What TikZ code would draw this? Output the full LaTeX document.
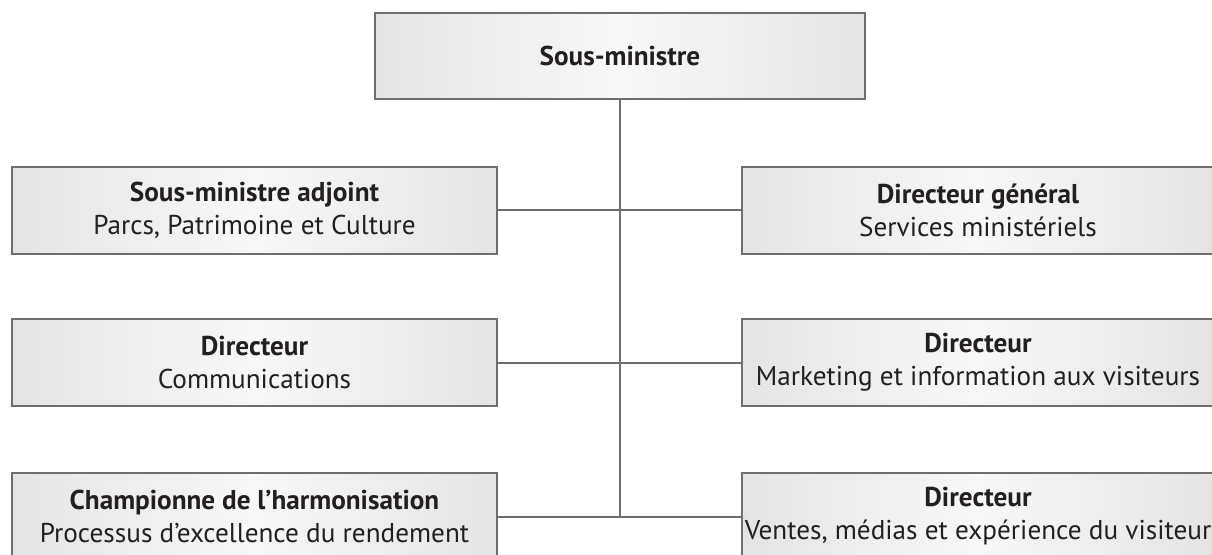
\documentclass[tikz,border=0pt]{standalone}
\usepackage{fontspec}
\setmainfont{PT Sans}
\definecolor{edgegray}{HTML}{6D6E71}
\definecolor{boxedge}{HTML}{E4E4E4}
\definecolor{boxmid}{HTML}{F8F8F8}
\definecolor{inktext}{HTML}{231F20}
\tikzset{
  orgbox/.style={draw=edgegray, line width=1pt, rectangle,
    left color=boxedge, right color=boxedge, middle color=boxmid,
    minimum width=242.5pt, minimum height=43.5pt, align=center,
    font=\fontsize{13.6}{16.5}\selectfont, text=inktext, inner sep=0pt},
  rightbox/.style={orgbox, minimum width=236pt},
  topbox/.style={orgbox, minimum width=245pt, minimum height=43pt},
  link/.style={draw=edgegray, line width=1pt}
}
\begin{document}
\begin{tikzpicture}[x=0.5pt,y=-0.5pt]
\clip (0,0) rectangle (1212,554);
\fill[white] (0,0) rectangle (1212,554);
\node[topbox] (top) at (620,56) {\textbf{Sous-ministre}};
\node[orgbox] (l1) at (254.5,210) {\textbf{Sous-ministre adjoint}\\Parcs, Patrimoine et Culture};
\node[rightbox] (r1) at (978,210) {\textbf{Directeur général}\\Services ministériels};
\node[orgbox] (l2) at (254.5,362.5) {\textbf{Directeur}\\Communications};
\node[rightbox] (r2) at (978,362.5) {\textbf{Directeur}\\Marketing et information aux visiteurs};
\node[orgbox] (l3) at (254.5,516.5) {\textbf{Championne de l’harmonisation}\\Processus d’excellence du rendement};
\node[rightbox] (r3) at (978,516.5) {\textbf{Directeur}\\Ventes, médias et expérience du visiteur};
\coordinate (j3) at (620,516.5);
\draw[link] (top.south) -- (j3);
\draw[link] (l1.east) -- (r1.west);
\draw[link] (l2.east) -- (r2.west);
\draw[link] (l3.east) -- (r3.west);
\end{tikzpicture}
\end{document}
